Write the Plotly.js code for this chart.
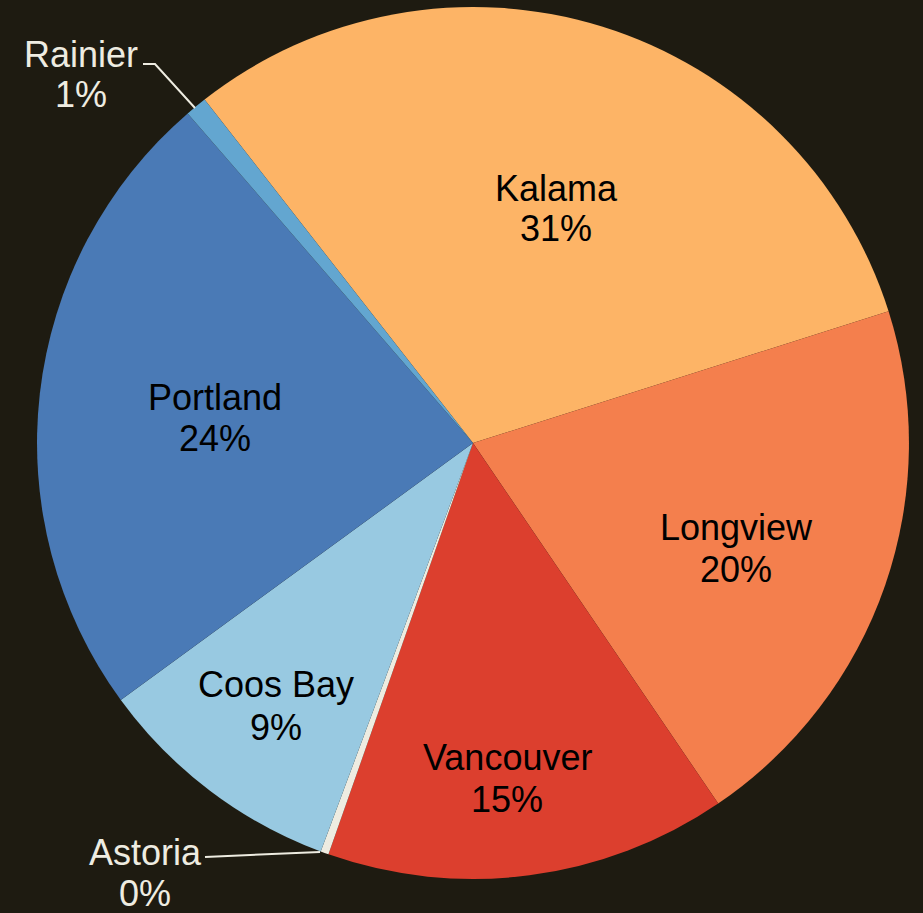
<!DOCTYPE html>
<html>
<head>
<meta charset="utf-8">
<script src="https://cdn.plot.ly/plotly-3.0.1.min.js"></script>
<style>html,body{margin:0;padding:0;background:#1E1B11;}#chart{width:923px;height:913px;}</style>
</head>
<body>
<div id="chart"></div>
<script>
const ports = ["Kalama", "Longview", "Vancouver", "Astoria", "Coos Bay", "Portland", "Rainier"];
const shares = [30.7, 20.4, 14.9, 0.3, 9.3, 23.7, 0.8];
const sliceColors = ["#FDB466", "#F47F4D", "#DC3F2E", "#EEECE1", "#98C9E1", "#4A7AB6", "#63A6D0"];
const labelColors = ["#000000", "#000000", "#000000", "#EEECE1", "#000000", "#000000", "#EEECE1"];

const W = 923, H = 913;
const total = shares.reduce((a, b) => a + b, 0);
const px = x => x / W;
const py = y => 1 - y / H;

// label placement in pixels (name line centre, percent line centre, optional leader line)
const labelPlace = {
  Kalama:     {x: 556, y1: 189, y2: 229},
  Longview:   {x: 736, y1: 527, y2: 569},
  Vancouver:  {x: 507, y1: 757, y2: 799},
  Astoria:    {x: 145, y1: 852, y2: 893, path: [[205, 857], [320, 852]]},
  "Coos Bay": {x: 276, y1: 684, y2: 727},
  Portland:   {x: 215, y1: 397, y2: 439},
  Rainier:    {x: 80.5, y1: 54, y2: 95, path: [[143, 64], [155, 64], [195, 108]]}
};

const font = "Liberation Sans, Arial, sans-serif";
const annotations = [];
const shapes = [];
ports.forEach((name, i) => {
  const p = labelPlace[name];
  const f = {family: font, size: 36, color: labelColors[i]};
  annotations.push({xref: "paper", yref: "paper", x: px(p.x), y: py(p.y1), text: name,
    showarrow: false, xanchor: "center", yanchor: "middle", font: f});
  annotations.push({xref: "paper", yref: "paper", x: px(p.x), y: py(p.y2),
    text: Math.round(shares[i] / total * 100) + "%",
    showarrow: false, xanchor: "center", yanchor: "middle", font: f});
  if (p.path) {
    const d = p.path.map((pt, k) => (k ? "L" : "M") + px(pt[0]) + "," + py(pt[1])).join(" ");
    shapes.push({type: "path", xref: "paper", yref: "paper", path: d, line: {color: labelColors[i], width: 2}});
  }
});

const trace = {
  type: "pie",
  labels: ports,
  values: shares,
  sort: false,
  direction: "clockwise",
  rotation: -38,
  marker: {colors: sliceColors, line: {width: 0}},
  textinfo: "none",
  hoverinfo: "label+percent",
  domain: {x: [0.0401, 0.9848], y: [0.0372, 0.9923]}
};

const layout = {
  width: W,
  height: H,
  paper_bgcolor: "#1E1B11",
  plot_bgcolor: "#1E1B11",
  margin: {l: 0, r: 0, t: 0, b: 0},
  showlegend: false,
  annotations: annotations,
  shapes: shapes
};

Plotly.newPlot("chart", [trace], layout, {displayModeBar: false, staticPlot: true});
</script>
</body>
</html>
